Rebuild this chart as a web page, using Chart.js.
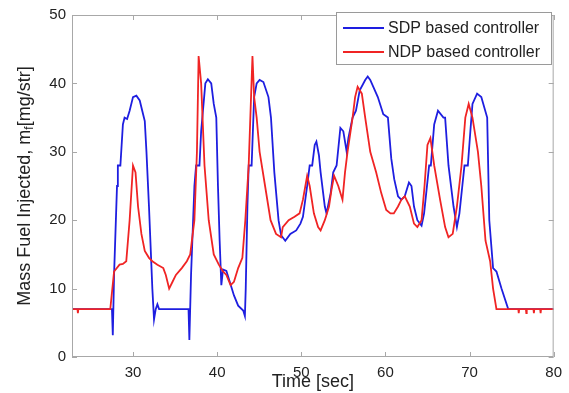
<!DOCTYPE html>
<html>
<head>
<meta charset="utf-8">
<script src="https://cdn.jsdelivr.net/npm/chart.js@4/dist/chart.umd.min.js"></script>
<style>
  html, body { margin: 0; padding: 0; background: #fff; }
  #wrap { width: 569px; height: 393px; position: relative; }
</style>
</head>
<body>
<div id="wrap"><canvas id="grafico"></canvas></div>
<script>
// valores
const sdpTempo = [22.75, 27.5, 27.6, 27.75, 28.1, 28.2, 28.5, 28.8, 29.0, 29.3, 29.6, 30.0, 30.4, 30.8, 31.2, 31.4, 31.6, 31.9, 32.3, 32.5, 32.7, 32.9, 33.1, 36.6, 36.7, 36.9, 37.3, 37.5, 37.9, 38.1, 38.6, 38.9, 39.3, 39.6, 39.9, 40.1, 40.3, 40.5, 40.7, 41.1, 41.5, 42.0, 42.5, 43.1, 43.3, 43.4, 43.6, 43.75, 44.1, 44.4, 44.7, 45.05, 45.5, 46.1, 46.4, 46.8, 47.3, 47.6, 48.1, 48.7, 49.4, 49.9, 50.2, 50.7, 51.0, 51.3, 51.6, 51.8, 52.1, 52.3, 52.8, 53.0, 53.5, 53.8, 54.2, 54.65, 55.0, 55.4, 55.6, 56.1, 56.5, 56.95, 57.6, 57.9, 58.2, 59.1, 59.75, 60.3, 60.7, 61.05, 61.5, 61.9, 62.3, 62.8, 63.1, 63.4, 63.8, 64.3, 64.6, 65.2, 65.4, 65.8, 66.25, 66.9, 67.1, 67.5, 68.1, 68.5, 68.8, 69.4, 69.8, 70.1, 70.35, 70.9, 71.4, 72.1, 72.35, 72.8, 73.2, 73.8, 74.6, 80];
const sdpCombustivel = [7, 7, 3.2, 12, 25, 28, 28, 34, 35, 34.8, 36, 38, 38.2, 37.5, 35.5, 34.5, 30, 22, 10, 5.5, 7, 7.7, 7, 7, 2.5, 12, 25, 28, 28, 33, 40, 40.6, 40, 37, 35, 25, 17, 10.5, 12.8, 12.6, 11, 9, 7.5, 6.8, 6, 10, 22, 28, 28, 38, 40, 40.5, 40.2, 38, 35, 27, 20, 17.8, 17, 18, 18.5, 19.5, 20.5, 25, 28, 28, 31, 31.5, 29.5, 27, 22, 21, 24, 27, 28, 33.5, 33, 30, 32, 35, 36, 39, 40.5, 41, 40.5, 38, 35.5, 35, 29, 26, 23.5, 23, 23.5, 25.5, 25, 22, 20, 19.2, 21, 28, 28, 34, 36, 35, 35, 28, 22, 19, 21, 28, 28, 33, 37, 38.5, 38, 35, 20, 13, 12.5, 10, 7, 7];

const ndpTempo = [22.75, 23.4, 23.45, 23.5, 27.3, 27.75, 28.4, 28.8, 29.2, 29.6, 30.0, 30.3, 30.6, 31.0, 31.4, 31.9, 32.3, 32.9, 33.6, 33.9, 34.3, 34.7, 35.1, 35.8, 36.4, 36.8, 37.3, 37.6, 37.8, 38.1, 38.5, 39.0, 39.6, 40.2, 40.7, 41.1, 41.6, 42.0, 42.5, 43.0, 43.35, 43.75, 44.2, 44.4, 44.7, 45.05, 45.7, 46.35, 47.0, 47.6, 47.8, 48.5, 49.2, 49.8, 50.2, 50.7, 51.0, 51.5, 52.0, 52.3, 52.8, 53.3, 53.6, 53.9, 54.4, 54.9, 55.2, 55.5, 56.1, 56.4, 56.7, 57.2, 57.6, 58.2, 58.9, 59.5, 60.1, 60.6, 61.0, 61.5, 61.9, 62.3, 62.9, 63.4, 63.8, 64.3, 64.65, 65.0, 65.35, 65.8, 66.5, 67.1, 67.5, 68.0, 68.5, 69.05, 69.5, 69.9, 70.35, 71.0, 71.4, 71.9, 72.45, 72.8, 73.2, 75.8, 75.85, 75.9, 76.7, 76.75, 76.8, 77.6, 77.65, 77.7, 78.4, 78.45, 78.5, 80];
const ndpCombustivel = [7, 7, 6.4, 7, 7, 12.5, 13.5, 13.6, 14, 20, 28, 27, 22, 18, 15.5, 14.5, 14, 13.5, 13, 12, 10, 11, 12, 13, 14, 15, 20, 30, 44, 40, 28, 20, 15, 13.5, 12.5, 12, 10.5, 11, 13, 14.5, 20, 28, 44, 38, 35, 30, 25, 20, 18, 17.5, 19, 20, 20.5, 21, 23, 26.5, 25, 21, 19, 18.5, 20, 22, 24.5, 26.5, 25, 23, 27, 30, 35, 38, 39.5, 38.5, 35, 30, 27, 24, 21.5, 21, 21, 22, 23, 23.5, 22, 19.5, 19, 20, 25, 31, 32, 28, 23, 19, 17.5, 18, 22, 28, 35, 37, 35, 30, 25, 17, 14, 10, 7, 7, 6.4, 7, 7, 6.4, 7, 7, 6.4, 7, 7, 6.4, 7, 7];

const xTicks = [30, 40, 50, 60, 70, 80];
const yTicks = [0, 10, 20, 30, 40, 50];
const nomes = ['SDP based controller', 'NDP based controller'];
const cores = ['#1e1ee0', '#f02424'];

const fonte = '"Liberation Sans", Arial, sans-serif';

function pontos(ts, vs) {
  return ts.map((t, i) => ({ x: t, y: vs[i] }));
}

// moldura, ticks para dentro, titulos e legenda no estilo MATLAB
const estiloMatlab = {
  id: 'estiloMatlab',
  afterDraw(chart) {
    const ctx = chart.ctx;
    const a = chart.chartArea;
    const sx = chart.scales.x;
    const sy = chart.scales.y;
    ctx.save();
    ctx.strokeStyle = '#a8a8a8';
    ctx.lineWidth = 1;
    ctx.strokeRect(a.left + 0.5, a.top + 0.5, a.right - a.left - 1, a.bottom - a.top - 1);
    ctx.beginPath();
    xTicks.forEach(v => {
      const px = Math.round(sx.getPixelForValue(v)) + 0.5;
      ctx.moveTo(px, a.bottom); ctx.lineTo(px, a.bottom - 5);
      ctx.moveTo(px, a.top); ctx.lineTo(px, a.top + 5);
    });
    yTicks.forEach(v => {
      const py = Math.round(sy.getPixelForValue(v)) + 0.5;
      ctx.moveTo(a.left, py); ctx.lineTo(a.left + 5, py);
      ctx.moveTo(a.right, py); ctx.lineTo(a.right - 5, py);
    });
    ctx.stroke();

    // titulo do eixo x
    ctx.fillStyle = '#222';
    ctx.font = '18px ' + fonte;
    ctx.textAlign = 'center';
    ctx.textBaseline = 'middle';
    ctx.fillText('Time [sec]', (a.left + a.right) / 2, 382);

    // titulo do eixo y com subscrito
    ctx.save();
    ctx.translate(25, (a.top + a.bottom) / 2);
    ctx.rotate(-Math.PI / 2);
    const p1 = 'Mass Fuel Injected, m';
    const p2 = 'f';
    const p3 = '[mg/str]';
    ctx.font = '18px ' + fonte;
    const w1 = ctx.measureText(p1).width;
    const w3 = ctx.measureText(p3).width;
    ctx.font = '12px ' + fonte;
    const w2 = ctx.measureText(p2).width;
    let x0 = -(w1 + w2 + w3) / 2;
    ctx.textAlign = 'left';
    ctx.font = '18px ' + fonte;
    ctx.fillText(p1, x0, 0);
    ctx.font = '12px ' + fonte;
    ctx.fillText(p2, x0 + w1, 5);
    ctx.font = '18px ' + fonte;
    ctx.fillText(p3, x0 + w1 + w2, 0);
    ctx.restore();

    // legenda
    const lx = 336, ly = 12, lw = 215, lh = 52;
    ctx.fillStyle = '#fff';
    ctx.fillRect(lx, ly, lw, lh);
    ctx.strokeStyle = '#9a9a9a';
    ctx.strokeRect(lx + 0.5, ly + 0.5, lw, lh);
    ctx.font = '16px ' + fonte;
    ctx.textAlign = 'left';
    ctx.textBaseline = 'middle';
    [28, 52].forEach((yy, i) => {
      ctx.strokeStyle = cores[i];
      ctx.lineWidth = 2;
      ctx.beginPath();
      ctx.moveTo(343, yy); ctx.lineTo(384, yy);
      ctx.stroke();
      ctx.fillStyle = '#222';
      ctx.fillText(nomes[i], 388, yy + 1);
    });
    ctx.restore();
  }
};

new Chart(document.getElementById('grafico'), {
  type: 'line',
  data: {
    datasets: [
      {
        label: nomes[0],
        data: pontos(sdpTempo, sdpCombustivel),
        borderColor: cores[0],
        borderWidth: 1.8,
        pointRadius: 0,
        tension: 0,
        order: 1
      },
      {
        label: nomes[1],
        data: pontos(ndpTempo, ndpCombustivel),
        borderColor: cores[1],
        borderWidth: 1.8,
        pointRadius: 0,
        tension: 0,
        order: 0
      }
    ]
  },
  options: {
    responsive: true,
    maintainAspectRatio: false,
    animation: false,
    layout: { padding: { left: 0, right: 14, top: 11, bottom: 0 } },
    plugins: {
      legend: { display: false },
      tooltip: { enabled: false }
    },
    scales: {
      x: {
        type: 'linear',
        min: 22.75,
        max: 80,
        afterBuildTicks: s => { s.ticks = xTicks.map(v => ({ value: v })); },
        afterFit: s => { s.height = 36; },
        grid: { display: false, drawTicks: false },
        border: { display: false },
        ticks: { color: '#222', font: { size: 15, family: fonte }, padding: 7, maxRotation: 0 }
      },
      y: {
        min: 0,
        max: 50,
        afterBuildTicks: s => { s.ticks = yTicks.map(v => ({ value: v })); },
        afterFit: s => { s.width = 72; },
        grid: { display: false, drawTicks: false },
        border: { display: false },
        ticks: { color: '#222', font: { size: 15, family: fonte }, padding: 6 }
      }
    }
  },
  plugins: [estiloMatlab]
});
</script>
</body>
</html>
